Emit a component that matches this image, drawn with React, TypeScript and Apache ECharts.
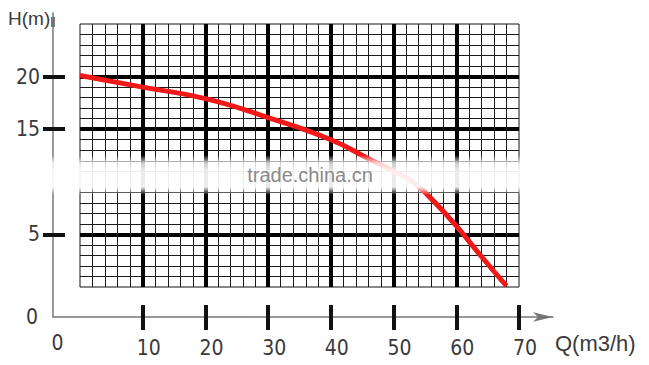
import React, { useEffect, useRef } from "react";
import * as echarts from "echarts";

// Pump curve: flow Q (m3/h) vs head H (m)
const qValues = [0, 10, 20, 30, 40, 46, 50, 53, 56, 60, 64, 68];
const hValues = [20.1, 19.0, 17.9, 16.1, 14.0, 12.2, 11.0, 10.0, 8.4, 5.8, 2.9, 0.1];
const xTickValues = [10, 20, 30, 40, 50, 60, 70];
const yTickValues = [5, 15, 20];
const yLabelValues = [5, 15, 20];
const xAxisName = "Q(m3/h)";
const yAxisName = "H(m)";
const watermark = "trade.china.cn";

const FONT = '"Liberation Sans Narrow", "DejaVu Sans Condensed", "Liberation Sans", sans-serif';
const TEXT = "#3a3a3a";

export default function App() {
  const ref = useRef<HTMLDivElement>(null);
  useEffect(() => {
    if (!ref.current) return;
    const chart = echarts.init(ref.current, null, { renderer: "svg" });
    const option: any = {
      animation: false,
      backgroundColor: "#ffffff",
      grid: [
        { left: 80, right: 130, top: 24, bottom: 78, show: true, borderColor: "#111", borderWidth: 1, backgroundColor: "transparent" },
        { left: 53, right: 96, top: 13, bottom: 48 },
      ],
      xAxis: [
        {
          type: "value",
          gridIndex: 0,
          min: 0,
          max: 70,
          interval: 10,
          offset: 18,
          axisLine: { show: false, onZero: false },
          axisTick: { show: true, customValues: xTickValues, length: 25, lineStyle: { color: "#111", width: 4 } },
          axisLabel: { customValues: xTickValues, margin: 32, fontSize: 21, lineHeight: 22, color: TEXT, fontFamily: FONT, padding: [0, 0, 0, 12] },
          splitLine: { show: true, showMinLine: true, showMaxLine: false, lineStyle: { color: "#000", width: 4 } },
          minorTick: { show: false, splitNumber: 5 },
          minorSplitLine: { show: true, lineStyle: { color: "#1a1a1a", width: 1 } },
        },
        {
          type: "value",
          gridIndex: 1,
          min: 0,
          max: 1,
          interval: 1,
          axisLine: { show: true, onZero: false, lineStyle: { color: "#777", width: 1.5 }, symbol: ["none", "arrow"], symbolSize: [7, 20] },
          axisTick: { show: false },
          splitLine: { show: false },
          axisLabel: { formatter: (v: number) => (v === 0 ? "0" : ""), margin: 15, fontSize: 21, lineHeight: 22, color: TEXT, fontFamily: FONT, padding: [0, 0, 0, 9] },
        },
      ],
      yAxis: [
        {
          type: "value",
          gridIndex: 0,
          min: 0,
          max: 25,
          interval: 5,
          offset: 15,
          axisLine: { show: false, onZero: false },
          axisTick: { show: true, customValues: yTickValues, length: 22, lineStyle: { color: "#111", width: 4 } },
          axisLabel: { customValues: yLabelValues, margin: 25, fontSize: 21, lineHeight: 22, color: TEXT, fontFamily: FONT, padding: [0, 0, 8, 0] },
          splitLine: { show: true, lineStyle: { color: "#000", width: 4 } },
          minorTick: { show: false, splitNumber: 5 },
          minorSplitLine: { show: true, lineStyle: { color: "#1a1a1a", width: 1 } },
        },
        {
          type: "value",
          gridIndex: 1,
          min: 0,
          max: 1,
          interval: 1,
          axisLine: { show: true, onZero: false, lineStyle: { color: "#777", width: 1.5 }, symbol: ["none", "rect"], symbolSize: [4, 10], symbolOffset: [0, -9] },
          axisTick: { show: false },
          splitLine: { show: false },
          axisLabel: { formatter: (v: number) => (v === 0 ? "0" : ""), margin: 15, fontSize: 21, lineHeight: 22, color: TEXT, fontFamily: FONT, padding: [0, 0, 8, 0] },
        },
      ],
      series: [
        {
          type: "line",
          xAxisIndex: 0,
          yAxisIndex: 0,
          data: qValues.map((q, i) => [q, hValues[i]]),
          smooth: true,
          showSymbol: false,
          lineStyle: { color: "#f01818", width: 5 },
          z: 3,
        },
      ],
      graphic: [
        {
          type: "rect",
          z: 100,
          shape: { x: 38, y: 155, width: 532, height: 40 },
          style: {
            fill: {
              type: "linear", x: 0, y: 0, x2: 0, y2: 1,
              colorStops: [
                { offset: 0, color: "rgba(255,255,255,0)" },
                { offset: 0.2, color: "rgba(255,255,255,0.8)" },
                { offset: 0.4, color: "rgba(255,255,255,0.92)" },
                { offset: 0.8, color: "rgba(255,255,255,0.92)" },
                { offset: 1, color: "rgba(255,255,255,0)" },
              ],
            },
          },
        },
        {
          type: "text",
          z: 101,
          x: 310,
          y: 175,
          style: { text: watermark, fill: "#8a8a8a", fontSize: 20, fontFamily: '"Liberation Sans", sans-serif', align: "center", verticalAlign: "middle" },
        },
        {
          type: "text",
          z: 101,
          x: 8,
          y: 18,
          style: { text: yAxisName, fill: TEXT, fontSize: 19, fontFamily: '"Liberation Sans", sans-serif', align: "left", verticalAlign: "middle" },
        },
        {
          type: "text",
          z: 101,
          x: 555,
          y: 343,
          style: { text: xAxisName, fill: TEXT, fontSize: 22, fontFamily: '"Liberation Sans", sans-serif', align: "left", verticalAlign: "middle" },
        },
      ],
    };
    chart.setOption(option);
    return () => chart.dispose();
  }, []);
  return <div ref={ref} style={{ position: "fixed", left: 0, top: 0, width: 649, height: 365 }} />;
}
